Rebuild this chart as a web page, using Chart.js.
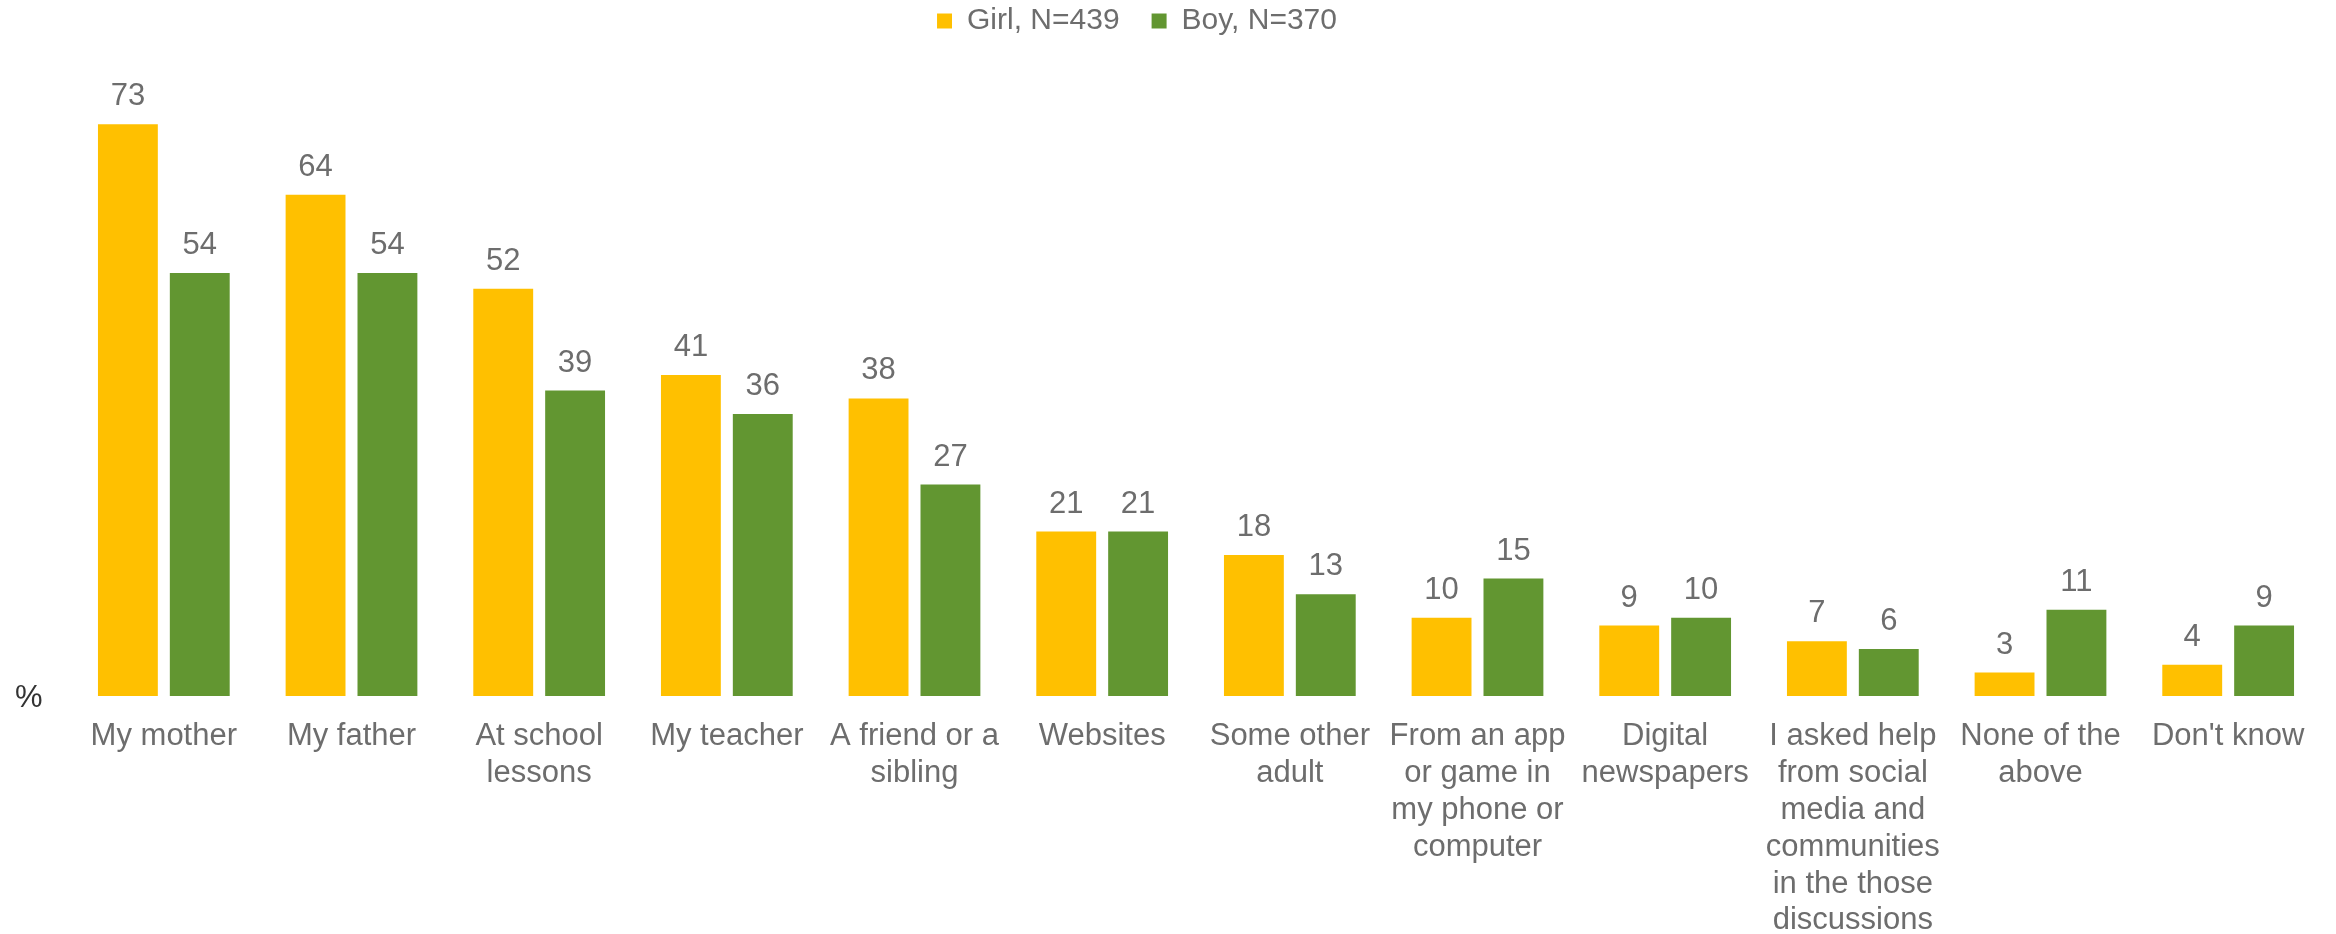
<!DOCTYPE html>
<html>
<head>
<meta charset="utf-8">
<script src="https://cdn.jsdelivr.net/npm/chart.js@4.4.1/dist/chart.umd.min.js"></script>
<style>
    body { margin: 0; background: #fff; }
    #wrap { width: 2336px; height: 934px; }
</style>
</head>
<body>
<div id="wrap"><canvas id="sourcesChart" width="2336" height="934"></canvas></div>
<script>
// Chart data
const categories = [
    'My mother',
    'My father',
    ['At school', 'lessons'],
    'My teacher',
    ['A friend or a', 'sibling'],
    'Websites',
    ['Some other', 'adult'],
    ['From an app', 'or game in', 'my phone or', 'computer'],
    ['Digital', 'newspapers'],
    ['I asked help', 'from social', 'media and', 'communities', 'in the those', 'discussions'],
    ['None of the', 'above'],
    "Don't know"
];
const seriesNames = ['Girl, N=439', 'Boy, N=370'];
const girlValues = [73, 64, 52, 41, 38, 21, 18, 10, 9, 7, 3, 4];
const boyValues = [54, 54, 39, 36, 27, 21, 13, 15, 10, 6, 11, 9];
const axisUnit = '%';

const textGrey = '#6d6d6d';
const fontFamily = '"Liberation Sans", Arial, sans-serif';

// Draws the value above each bar and the unit label at the baseline
const valueLabels = {
    id: 'valueLabels',
    afterDatasetsDraw(chart) {
        const ctx = chart.ctx;
        ctx.save();
        ctx.fillStyle = textGrey;
        ctx.font = '31px ' + fontFamily;
        ctx.textAlign = 'center';
        ctx.textBaseline = 'bottom';
        chart.data.datasets.forEach((ds, i) => {
            const meta = chart.getDatasetMeta(i);
            meta.data.forEach((bar, j) => {
                ctx.fillText(ds.data[j], bar.x, bar.y - 12);
            });
        });

        const y0 = chart.scales.y.getPixelForValue(0);
        ctx.fillStyle = '#333333';
        ctx.textAlign = 'left';
        ctx.textBaseline = 'middle';
        ctx.fillText(axisUnit, 15, y0 + 2);
        ctx.restore();
    }
};

new Chart(document.getElementById('sourcesChart'), {
    type: 'bar',
    data: {
        labels: categories,
        datasets: [
            { label: seriesNames[0], data: girlValues, backgroundColor: '#FFC000' },
            { label: seriesNames[1], data: boyValues, backgroundColor: '#629631' }
        ]
    },
    options: {
        responsive: false,
        animation: false,
        devicePixelRatio: 1,
        categoryPercentage: 0.766,
        barPercentage: 0.833,
        layout: {
            padding: { left: -48, right: 14, top: -26, bottom: 0 }
        },
        plugins: {
            legend: {
                position: 'top',
                labels: {
                    color: textGrey,
                    font: { family: fontFamily, size: 30 },
                    boxWidth: 15,
                    boxHeight: 15,
                    padding: 32
                }
            },
            tooltip: { enabled: false }
        },
        scales: {
            x: {
                grid: { display: false },
                border: { display: false },
                ticks: {
                    color: textGrey,
                    font: { family: fontFamily, size: 31, lineHeight: 1.19 },
                    maxRotation: 0,
                    autoSkip: false,
                    padding: 14
                },
                afterFit(scale) { scale.height = 238; }
            },
            y: {
                min: 0,
                max: 83,
                grid: { display: false },
                border: { display: false },
                ticks: { display: false },
                afterFit(scale) { scale.width = 118; }
            }
        }
    },
    plugins: [valueLabels]
});
</script>
</body>
</html>
